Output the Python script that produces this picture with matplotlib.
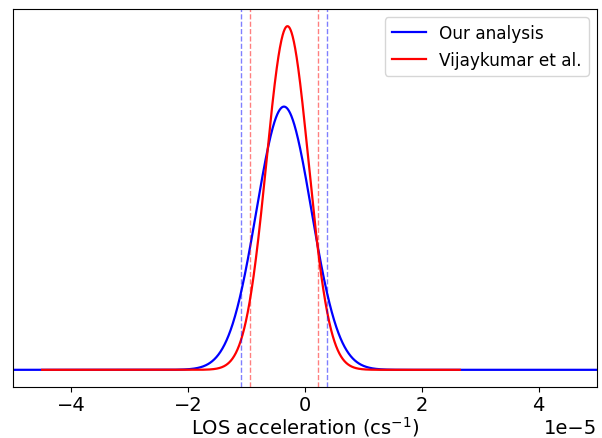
import numpy as np
import matplotlib
matplotlib.use("Agg")
import matplotlib.pyplot as plt

# values in units of 1e-5 cs^-1
labels = ["Our analysis", "Vijaykumar et al."]
colors = ["blue", "red"]
means = [-0.36, -0.30]
sigmas = [0.47, 0.36]
x_ranges = [(-5.0, 5.0), (-4.5, 2.65)]
intervals = [(-1.10, 0.37), (-0.95, 0.22)]
scale = 1e-5

fig = plt.figure(figsize=(6.02, 4.39), dpi=100)
ax = fig.add_axes([13/602, 1 - 388/439, 584/602, 378/439])

for lab, c, m, s, (lo, hi) in zip(labels, colors, means, sigmas, x_ranges):
    x = np.linspace(lo, hi, 2000)
    y = np.exp(-0.5 * ((x - m) / s) ** 2) / (s * np.sqrt(2 * np.pi))
    ax.plot(x * scale, y, color=c, lw=1.6, label=lab)

for c, (lo, hi) in zip(colors, intervals):
    ax.axvline(lo * scale, color=c, ls="--", lw=1, alpha=0.5)
    ax.axvline(hi * scale, color=c, ls="--", lw=1, alpha=0.5)

ax.set_xlim(-5 * scale, 5 * scale)
ax.set_yticks([])
ax.tick_params(axis="x", labelsize=14, pad=2.5)
ax.xaxis.get_offset_text().set_fontsize(14)
ax.set_xlabel("LOS acceleration (cs$^{-1}$)", fontsize=14, labelpad=0)
ax.legend(fontsize=12.2, loc="upper right")

fig.savefig("out.png", dpi=100)
